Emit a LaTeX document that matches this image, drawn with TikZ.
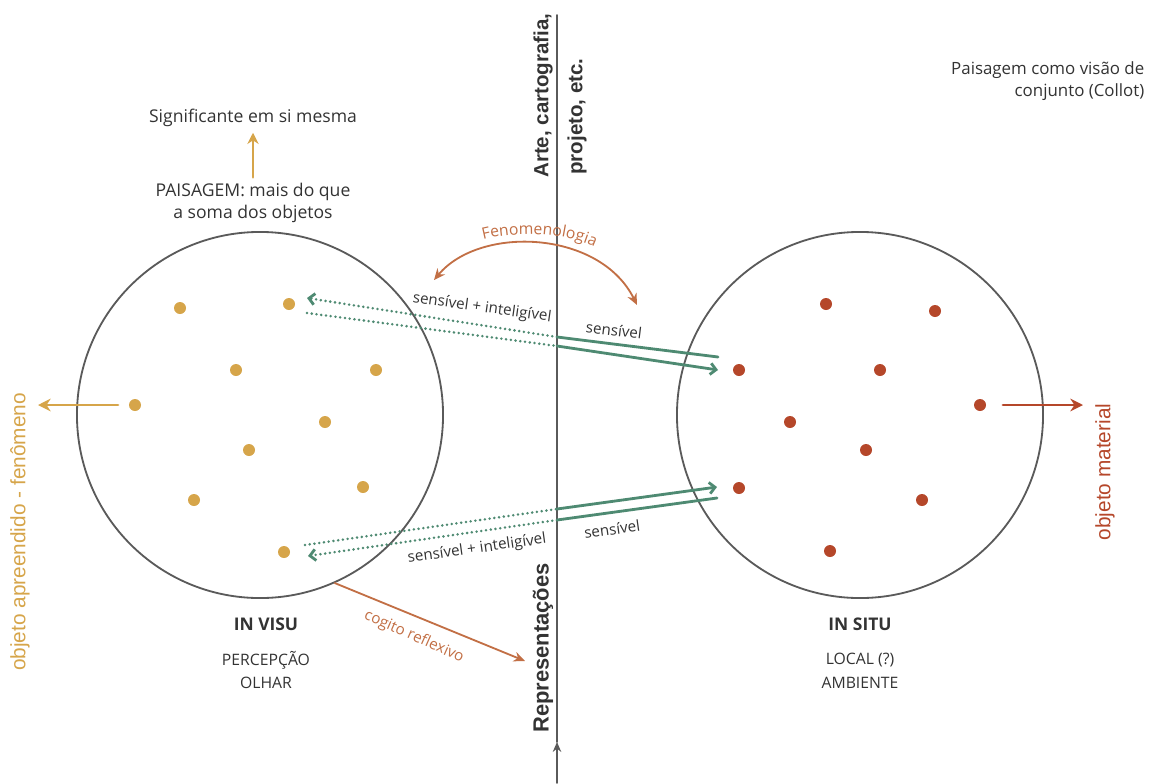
\documentclass[tikz,border=0pt]{standalone}
\usepackage{fontspec}
\setmainfont{Open Sans}
\newfontfamily\arialf{Liberation Sans}
\usetikzlibrary{arrows.meta,decorations.text}
\definecolor{ouro}{HTML}{D6A54A}
\definecolor{ferrugem}{HTML}{B5472A}
\definecolor{terra}{HTML}{C26F45}
\definecolor{verde}{HTML}{4E8A72}
\definecolor{cinza}{HTML}{5A5A5A}
\definecolor{texto}{HTML}{333333}
\begin{document}
\begin{tikzpicture}[x=0.025cm,y=-0.025cm,line join=round,line cap=round,>=Stealth,
  circ/.style={draw=cinza,line width=1.3pt,circle,minimum size=9.15cm,inner sep=0pt},
  gdot/.style={circle,fill=ouro,minimum size=0.3cm,inner sep=0pt},
  rdot/.style={circle,fill=ferrugem,minimum size=0.3cm,inner sep=0pt},
  sens/.style={verde,line width=2pt},
  intel/.style={verde,line width=2pt,dash pattern=on 0pt off 3.4pt},
  seta/.style={-{Straight Barb[length=4pt,width=8pt]}},
  txt/.style={text=texto,font=\fontsize{12.5}{15.6}\selectfont,inner sep=1pt},
  caixa/.style={text=texto,font=\fontsize{11.2}{15}\selectfont,inner sep=1pt},
  tit/.style={text=texto,font=\fontsize{12.4}{15}\selectfont\bfseries,inner sep=1pt},
  lbl/.style={text=texto,font=\fontsize{10.8}{12}\selectfont,inner sep=1pt},
  vert/.style={rotate=90,anchor=west,text=texto,font=\arialf\fontsize{14.6}{17}\selectfont\bfseries,inner sep=0pt},
  lado/.style={rotate=90,font=\arialf\fontsize{14.8}{17}\selectfont,inner sep=0pt}]
\useasboundingbox (0,0) rectangle (1157,783);
% eixo central
\path (557,783) coordinate (eixoB) (557,742) coordinate (eixoM) (557,15) coordinate (eixoT);
\draw[cinza,line width=1.3pt,-{Stealth[length=7pt,width=6pt]}] (eixoB) -- (eixoM);
\draw[cinza,line width=1.3pt] (eixoM) -- (eixoT);
\node[vert] (arte) at (543,178) {Arte, cartografia,};
\node[vert] (proj) at (577,175) {projeto, etc.};
\node[vert,font=\arialf\fontsize{15.6}{17}\selectfont\bfseries] (repr) at (543,733) {Representações};
% circulos
\node[circ] (visu) at (260,415) {};
\node[circ] (situ) at (860,415) {};
\foreach \n/\p in {1/{180,308},2/{289,304},3/{236,370},4/{376,370},5/{135,405},
  6/{325,422},7/{249,450},8/{194,500},9/{363,487},10/{284,552}}
  \node[gdot] (g\n) at (\p) {};
\foreach \n/\p in {1/{826,304},2/{935,311},3/{739,370},4/{880,370},5/{980,405},
  6/{790,422},7/{866,450},8/{739,488},9/{922,500},10/{830,551}}
  \node[rdot] (r\n) at (\p) {};
% objeto
\path (118,405) coordinate (ga) (38,405) coordinate (gb)
  (1003,405) coordinate (ra) (1083,405) coordinate (rb);
\draw[ouro,line width=2pt,-{Stealth[length=9pt,width=9pt]}] (ga) -- (gb);
\draw[ferrugem,line width=2pt,-{Stealth[length=9pt,width=9pt]}] (ra) -- (rb);
\node[lado,text=ouro] (fen) at (20,532) {objeto apreendido - fenômeno};
\node[lado,text=ferrugem] (mat) at (1105,472) {objeto material};
% paisagem
\node[txt] (sig) at (253,118) {Significante em si mesma};
\node[txt,align=center] (pais) at (253,203) {PAISAGEM: mais do que\\a soma dos objetos};
\draw[ouro,line width=2pt,-{Stealth[length=8pt,width=8pt]},shorten <=3pt,shorten >=3pt] (pais.north) -- (sig.south);
\node[txt,font=\fontsize{12}{15.6}\selectfont,align=right,anchor=north east] (col) at (1146,60) {Paisagem como visão de\\conjunto (Collot)};
% fenomenologia
\path (434,280) coordinate (f1) (637,305) coordinate (f2);
\draw[terra,line width=1.3pt,{Stealth[length=8pt,width=7pt]}-{Stealth[length=8pt,width=7pt]}]
  (f1) .. controls (480,225) and (600,230) .. (f2);
\path[decorate,decoration={text along path,text align=center,
  text={|\fontsize{11.2}{12}\selectfont\color{terra}|Fenomenologia}}]
  (466,245) .. controls (505,229) and (575,229) .. (610,256);
% sensivel / inteligivel
\path (307,298) coordinate (a1) (557,337) coordinate (m1) (718,357) coordinate (b1)
  (307,313) coordinate (a2) (557,346) coordinate (m2) (718,370) coordinate (b2)
  (305,545) coordinate (c1) (557,509) coordinate (n1) (717,487) coordinate (d1)
  (308,556) coordinate (c2) (557,520) coordinate (n2) (717,498) coordinate (d2);
\draw[sens] (b1) -- (m1);
\draw[intel,seta] (m1) -- (a1);
\draw[intel] (a2) -- (m2);
\draw[sens,seta] (m2) -- (b2);
\draw[intel] (c1) -- (n1);
\draw[sens,seta] (n1) -- (d1);
\draw[sens] (d2) -- (n2);
\draw[intel,seta] (n2) -- (c2);
\node[lbl,rotate=-8] (si1) at (482,308) {sensível + inteligível};
\node[lbl,rotate=-7] (s1) at (614,330) {sensível};
\node[lbl,rotate=8] (si2) at (477,549) {sensível + inteligível};
\node[lbl,rotate=8] (s2) at (612,529) {sensível};
% cogito
\coordinate (cg) at (525,661);
\draw[terra,line width=1.3pt,-{Stealth[length=8pt,width=7pt]}] (visu.-66) -- (cg);
\node[lbl,text=terra,rotate=-24] (cog) at (414,637) {cogito reflexivo};
% rotulos
\node[tit] (iv) at (266,624) {IN VISU};
\node[caixa] (iv1) at (266,660) {PERCEPÇÃO};
\node[caixa] (iv2) at (266,683) {OLHAR};
\node[tit] (is) at (860,624) {IN SITU};
\node[caixa] (is1) at (860,660) {LOCAL (?)};
\node[caixa] (is2) at (860,683) {AMBIENTE};
\end{tikzpicture}
\end{document}
